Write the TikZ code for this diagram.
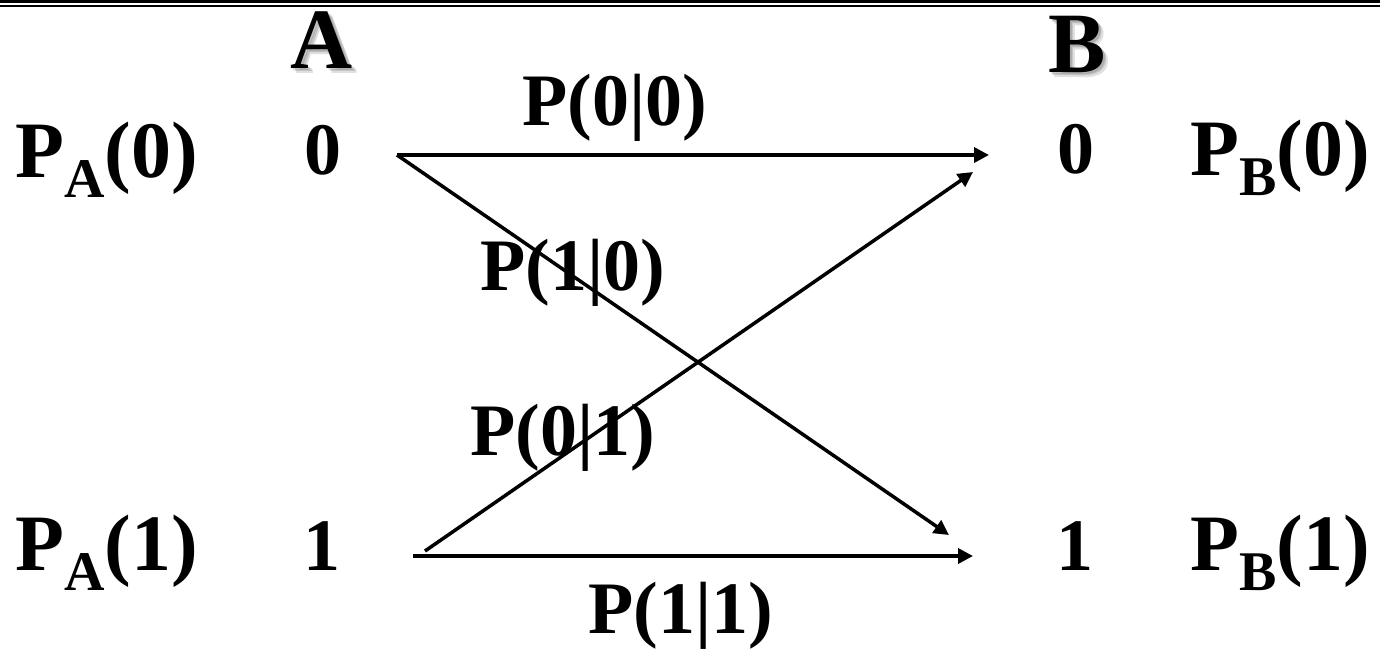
\documentclass[tikz,border=0pt]{standalone}
\usepackage{fontspec}
\setmainfont{Liberation Serif}
\usetikzlibrary{arrows.meta}
\newcommand{\sublbl}[1]{\raisebox{-20pt}{\fontsize{56}{56}\selectfont #1}}
\tikzset{
  side/.style={inner sep=0pt, anchor=base west, font=\bfseries\fontsize{80}{84}\selectfont},
  digit/.style={inner sep=0pt, anchor=base, font=\bfseries\fontsize{74}{78}\selectfont},
  trans/.style={inner sep=0pt, anchor=base west, font=\bfseries\fontsize{74}{78}\selectfont},
  head/.style={inner sep=0pt, anchor=base, font=\bfseries\fontsize{86}{90}\selectfont},
  shadowtxt/.style={head, text=black, text opacity=0.12},
  link/.style={line width=3.5pt, -{Triangle[length=15pt,width=15pt]}},
}
\begin{document}
\begin{tikzpicture}[x=1pt,y=-1pt]
\useasboundingbox[fill=white] (0,0) rectangle (1380,649);
% top rules
\draw[line width=3.3pt] (0,1.65) -- (1380,1.65);
\draw[line width=2.3pt] (0,6.2) -- (1380,6.2);
% headings with soft shadow
\foreach \d in {2,3.5,5} {
  \node[shadowtxt] at (322+\d,68+\d) {A};
  \node[shadowtxt] at (1077+\d,72+\d) {B};
}
\node[head] (A) at (322,68) {A};
\node[head] (B) at (1077,72) {B};
% side labels
\node[side] (PA0) at (15,177) {P\sublbl{A}(0)};
\node[side] (PA1) at (15,570) {P\sublbl{A}(1)};
\node[side] (PB0) at (1190,175) {P\sublbl{B}(0)};
\node[side] (PB1) at (1190,570) {P\sublbl{B}(1)};
% digits
\node[digit] (a0) at (323,174) {0};
\node[digit] (a1) at (322,570) {1};
\node[digit] (b0) at (1076,173) {0};
\node[digit] (b1) at (1075,570) {1};
% connector end points
\coordinate (s00) at (397,155);
\coordinate (e00) at (989,155);
\coordinate (e01) at (949,535);
\coordinate (s10) at (425,551);
\coordinate (e10) at (973,172);
\coordinate (s11) at (413,556);
\coordinate (e11) at (973,556);
\draw[link] (s00) -- (e00);
\draw[link] (s00) -- (e01);
\draw[link] (s10) -- (e10);
\draw[link] (s11) -- (e11);
% transition labels
\node[trans] (p00) at (522,125) {P(0|0)};
\node[trans] (p10) at (480,290) {P(1|0)};
\node[trans] (p01) at (470,455) {P(0|1)};
\node[trans] (p11) at (588,633) {P(1|1)};
\end{tikzpicture}
\end{document}
